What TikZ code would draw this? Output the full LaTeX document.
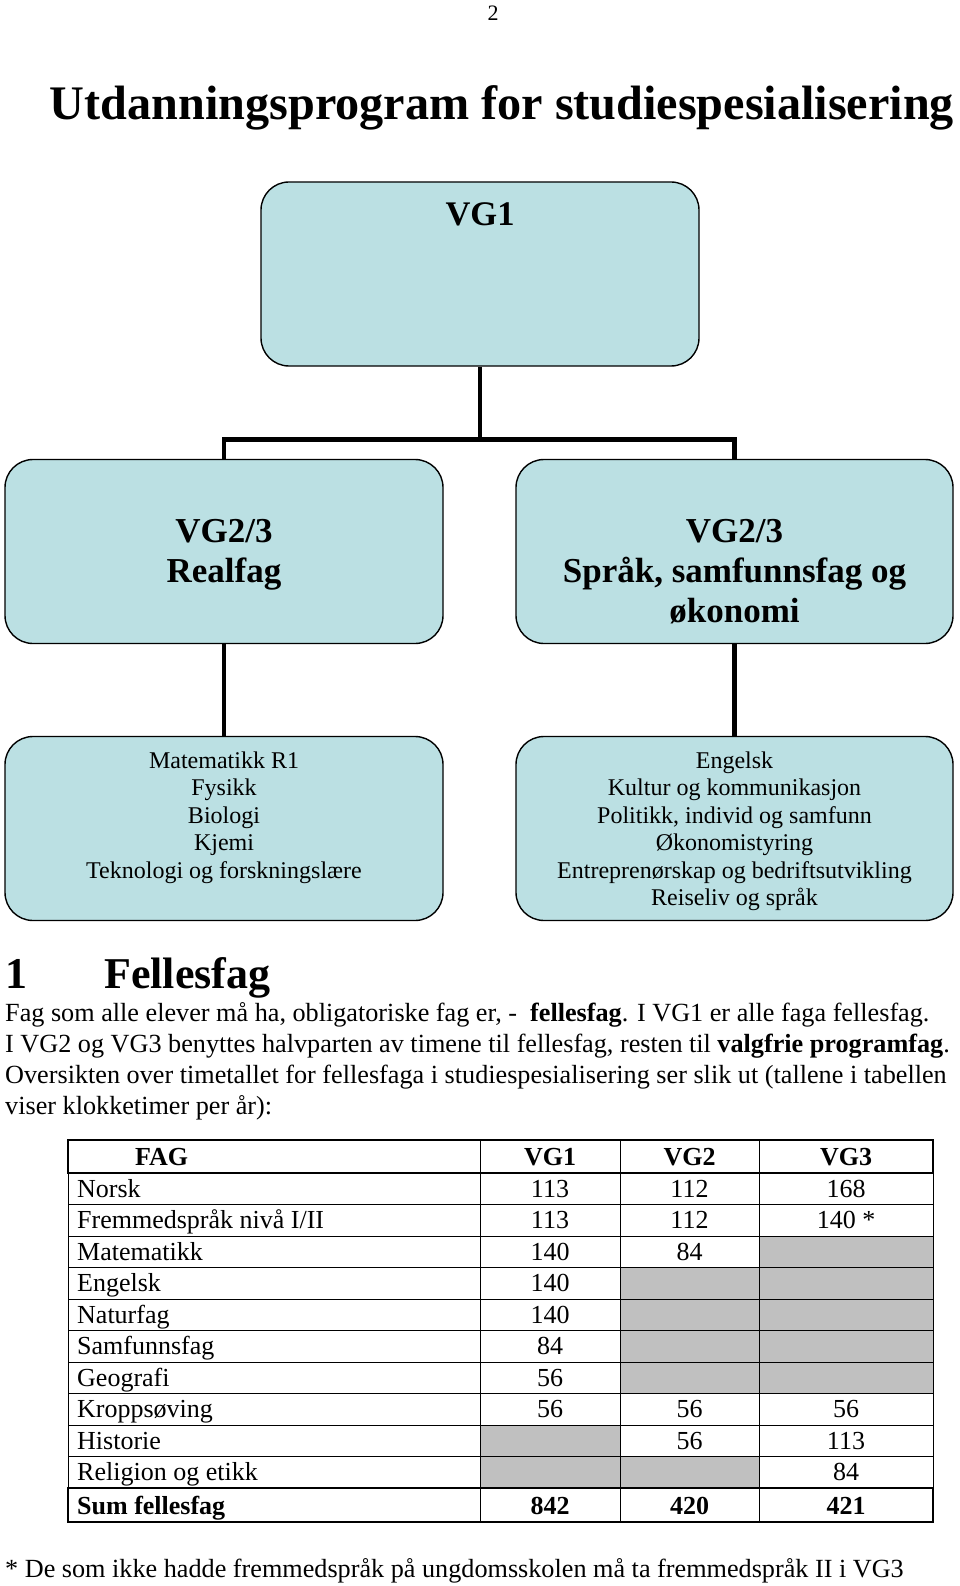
\documentclass[tikz,border=0pt]{standalone}
\usepackage{fontspec}
\setmainfont{Liberation Serif}

\definecolor{boxblue}{HTML}{BBE0E3}
\definecolor{cellgray}{HTML}{C0C0C0}

\tikzset{
    progbox/.style={draw=black, line width=1.4pt, fill=boxblue, rounded corners=28pt,
        minimum width=437pt, minimum height=184pt, inner sep=0pt},
    link/.style={line width=4.5pt},
    boxhead/.style={font=\fontsize{35}{40}\selectfont\bfseries, anchor=base, inner sep=0pt},
    boxtxt/.style={font=\fontsize{24}{27.5}\selectfont, anchor=base, inner sep=0pt},
    bodytxt/.style={font=\fontsize{26.2}{31}\selectfont, anchor=base west, inner sep=0pt},
    celltxt/.style={font=\fontsize{26}{30}\selectfont, anchor=base, inner sep=0pt},
    cellbold/.style={font=\fontsize{26}{30}\selectfont\bfseries, anchor=base, inner sep=0pt},
    thin/.style={line width=0.9pt},
    thick/.style={line width=2pt}
}

\begin{document}
\begin{tikzpicture}[x=1pt, y=-1pt]
    \useasboundingbox (0,0) rectangle (960,1586);

    % Page number and title
    \node[font=\fontsize{22}{26}\selectfont, anchor=base, inner sep=0pt] (page) at (493,21) {2};
    \node[font=\fontsize{48.2}{56}\selectfont\bfseries, anchor=base, inner sep=0pt] (title) at (502,120)
        {Utdanningsprogram for studiespesialisering};

    % Boxes
    \node[progbox, minimum width=438pt] (vg1) at (480,274) {};
    \node[progbox, minimum width=438pt] (real) at (224,551.5) {};
    \node[progbox] (sprak) at (734.5,551.5) {};
    \node[progbox, minimum width=438pt] (realfag) at (224,828.5) {};
    \node[progbox] (sprakfag) at (734.5,828.5) {};

    % Box headings
    \node[boxhead, font=\fontsize{34.5}{40}\selectfont\bfseries] (vg1txt) at (480,226) {VG1};
    \node[boxhead] (realtxt) at (224,542) {VG2/3};
    \node[boxhead] (realname) at (224,582) {Realfag};
    \node[boxhead] (spraktxt) at (734.5,542) {VG2/3};
    \node[boxhead] (sprakname) at (734.5,582) {Språk, samfunnsfag og};
    \node[boxhead] (sprakname2) at (734.5,622) {økonomi};

    % Subject lists
    \foreach \t [count=\i] in {Matematikk R1, Fysikk, Biologi, Kjemi, Teknologi og forskningslære}
        \node[boxtxt] (rf\i) at (224,{740.5+27.5*\i}) {\t};
    \foreach \t [count=\i] in {Engelsk, Kultur og kommunikasjon, {Politikk, individ og samfunn},
        Økonomistyring, Entreprenørskap og bedriftsutvikling, Reiseliv og språk}
        \node[boxtxt] (sf\i) at (734.5,{740.5+27.5*\i}) {\t};

    % Connectors
    \draw[link] (vg1.south) -- ++(0,73) coordinate (split) -| (real.north);
    \draw[link] (split) -| (sprak.north);
    \draw[link] (real.south) -- (realfag.north);
    \draw[link] (sprak.south) -- (sprakfag.north);

    % Section heading
    \node[font=\fontsize{44}{50}\selectfont\bfseries, anchor=base west, inner sep=0pt] (secnum) at (5,988) {1};
    \node[font=\fontsize{44}{50}\selectfont\bfseries, anchor=base west, inner sep=0pt] (sectitle) at (104,988) {Fellesfag};

    % Paragraph
    \node[bodytxt] (p1) at (5,1021) {Fag som alle elever må ha, obligatoriske fag er, -\ \ \textbf{fellesfag}. I VG1 er alle faga fellesfag.};
    \node[bodytxt] (p2) at (5,1052) {I VG2 og VG3 benyttes halvparten av timene til fellesfag, resten til \textbf{valgfrie programfag}.};
    \node[bodytxt] (p3) at (5,1083) {Oversikten over timetallet for fellesfaga i studiespesialisering ser slik ut (tallene i tabellen};
    \node[bodytxt] (p4) at (5,1114) {viser klokketimer per år):};

    % Gray cells
    \def\ca{480}\def\cb{620}\def\cc{759}\def\cd{933}
    \foreach \xa/\xb/\r in {\cc/\cd/3, \cb/\cc/4, \cc/\cd/4, \cb/\cc/5, \cc/\cd/5, \cb/\cc/6, \cc/\cd/6,
        \cb/\cc/7, \cc/\cd/7, \ca/\cb/9, \ca/\cb/10, \cb/\cc/10}
        \fill[cellgray] (\xa,{1173+31.5*(\r-1)}) rectangle (\xb,{1173+31.5*\r});

    % Table grid
    \foreach \k in {1,...,9}
        \draw[thin] (68,{1173+31.5*\k}) -- (933,{1173+31.5*\k});
    \foreach \x in {68,\ca,\cb,\cc,\cd}
        \draw[thin] (\x,1140) -- (\x,1522);
    \draw[thick] (68,1140) rectangle (933,1173);
    \draw[thick] (68,1488) rectangle (933,1522);

    % Header
    \node[cellbold, anchor=base west] (hfag) at (135,1165.5) {FAG};
    \node[cellbold] (hvg1) at (550,1165.5) {VG1};
    \node[cellbold] (hvg2) at (689.5,1165.5) {VG2};
    \node[cellbold] (hvg3) at (846,1165.5) {VG3};

    % Rows
    \foreach \r/\fag/\a/\b/\c in {1/Norsk/113/112/168, 2/{Fremmedspråk nivå I/II}/113/112/140 *,
        3/Matematikk/140/84/, 4/Engelsk/140//, 5/Naturfag/140//, 6/Samfunnsfag/84//,
        7/Geografi/56//, 8/Kroppsøving/56/56/56, 9/Historie//56/113, 10/Religion og etikk///84} {
        \node[celltxt, anchor=base west] (fag\r) at (77,{1165.75+31.5*\r}) {\fag};
        \node[celltxt] (a\r) at (550,{1165.75+31.5*\r}) {\a};
        \node[celltxt] (b\r) at (689.5,{1165.75+31.5*\r}) {\b};
        \node[celltxt] (c\r) at (846,{1165.75+31.5*\r}) {\c};
    }

    % Sum
    \node[cellbold, anchor=base west] (sumfag) at (77,1514) {Sum fellesfag};
    \node[cellbold] (suma) at (550,1514) {842};
    \node[cellbold] (sumb) at (689.5,1514) {420};
    \node[cellbold] (sumc) at (846,1514) {421};

    % Footnote
    \node[bodytxt] (note) at (5,1577)
        {* De som ikke hadde fremmedspråk på ungdomsskolen må ta fremmedspråk II i VG3};
\end{tikzpicture}
\end{document}
